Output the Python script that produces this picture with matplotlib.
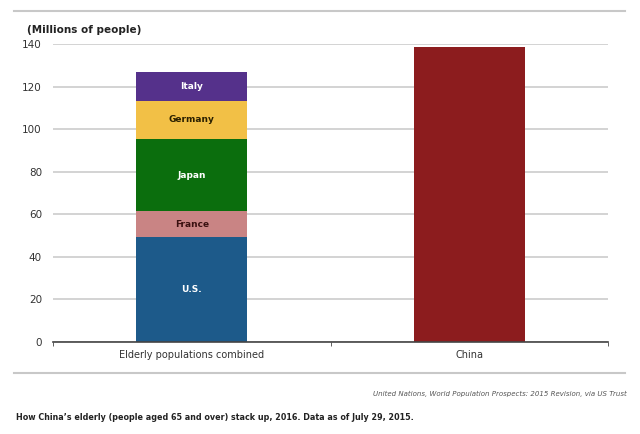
import matplotlib
matplotlib.use("Agg")
import matplotlib.pyplot as plt
from matplotlib.lines import Line2D
from matplotlib import font_manager

categories = ["Elderly populations combined", "China"]
countries = ["U.S.", "France", "Japan", "Germany", "Italy"]
country_values = [49.3, 12.2, 33.9, 17.8, 13.6]
country_colors = ["#1d5a8a", "#c98484", "#0b6e0d", "#f2c046", "#55318b"]
label_colors = ["white", "#3a1010", "white", "#2a2000", "white"]
china_value = 138.5
china_color = "#8c1c1e"
yticks = [0, 20, 40, 60, 80, 100, 120, 140]

fig = plt.figure(figsize=(6.4, 4.34), dpi=100)
ax = fig.add_axes([53/640, 1-342/434, (608-53)/640, (342-44)/434])

bottom = 0
for name, v, c, lc in zip(countries, country_values, country_colors, label_colors):
    ax.bar(0, v, bottom=bottom, width=0.4, color=c, zorder=3)
    ax.text(0, bottom + v/2, name, ha="center", va="center", fontsize=6.5,
            fontweight="bold", color=lc, zorder=4)
    bottom += v
ax.bar(1, china_value, width=0.4, color=china_color, zorder=3)

ax.set_xlim(-0.5, 1.5)
ax.set_ylim(0, 140)
ax.set_yticks(yticks)
ax.set_yticklabels([str(t) for t in yticks], fontsize=7.5, color="#333333")
ax.yaxis.grid(True, color="#cccccc", linewidth=1.2, zorder=0)
ax.tick_params(axis="y", length=0, pad=8)
ax.set_xticks([0, 1])
ax.set_xticklabels(categories, fontsize=7, color="#333333")
ax.set_xticks([-0.5, 0.5, 1.5], minor=True)
ax.tick_params(axis="x", which="major", length=0, pad=6)
ax.tick_params(axis="x", which="minor", length=3, direction="out", color="#444444")
for s in ["top", "right", "left"]:
    ax.spines[s].set_visible(False)
ax.spines["bottom"].set_color("#444444")
ax.spines["bottom"].set_linewidth(1.2)
ax.spines["bottom"].set_zorder(5)

fig.text(27/640, 1-30/434, "(Millions of people)", fontsize=7.5, fontweight="bold",
         color="#222222", ha="left", va="center")

fig.add_artist(Line2D([14/640, 625/640], [1-11/434, 1-11/434], color="#c8c8c8", linewidth=1.5))
fig.add_artist(Line2D([14/640, 625/640], [1-373/434, 1-373/434], color="#c8c8c8", linewidth=1.5))

fig.text(627/640, 1-394/434,
         "United Nations, World Population Prospects: 2015 Revision, via US Trust",
         fontsize=5, style="italic", color="#555555", ha="right", va="center")

names = {f.name for f in font_manager.fontManager.ttflist}
cap = fig.text(16/640, 1-418/434,
         "How China\u2019s elderly (people aged 65 and over) stack up, 2016. Data as of July 29, 2015.",
         fontsize=7.5, fontweight="bold", color="#222222", ha="left", va="center",
         family=["Liberation Sans Narrow", "DejaVu Sans"], fontstretch="condensed")
# fit the caption width to the reference (about 397 px)
fig.canvas.draw()
w = cap.get_window_extent().width
cap.set_fontsize(7.5 * min(1.0, 397 / w))

fig.savefig("out.png", dpi=100)
